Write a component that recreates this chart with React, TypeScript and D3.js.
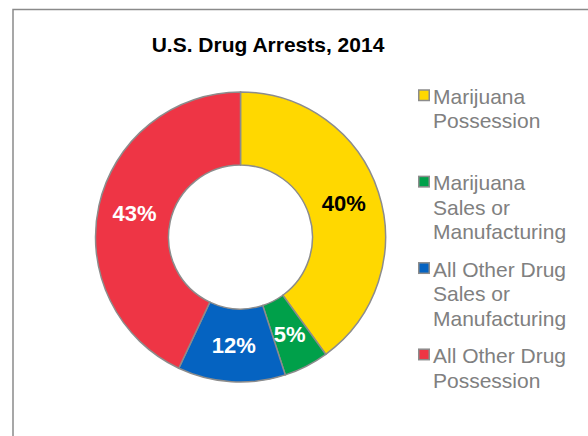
import React from "react";
import * as d3 from "d3";

const categories = [
  ["Marijuana", "Possession"],
  ["Marijuana", "Sales or", "Manufacturing"],
  ["All Other Drug", "Sales or", "Manufacturing"],
  ["All Other Drug", "Possession"],
];
const values = [40, 5, 12, 43];
const labels = ["40%", "5%", "12%", "43%"];
const colors = ["#FFD800", "#00A04A", "#0563C1", "#EE3545"];
const labelColors = ["#000000", "#FFFFFF", "#FFFFFF", "#FFFFFF"];
const title = "U.S. Drug Arrests, 2014";

export default function App() {
  const W = 588;
  const H = 436;
  const cx = 240.5;
  const cy = 237;
  const outerR = 145;
  const innerR = 72;

  const pie = d3
    .pie<number>()
    .sort(null)
    .value((d) => d)
    .startAngle(0)
    .endAngle(2 * Math.PI);
  const arcs = pie(values);
  const arc = d3.arc<d3.PieArcDatum<number>>().innerRadius(innerR).outerRadius(outerR);

  const legendX = 418;
  const legendBase = 104;
  const legendStep = 86.4;
  const lineH = 24.4;
  const font = "'Liberation Sans', Arial, sans-serif";

  return (
    <svg
      width={W}
      height={H}
      style={{ position: "absolute", left: 0, top: 0, background: "#fff" }}
      fontFamily={font}
    >
      <rect x={0} y={0} width={W} height={H} fill="#fff" />
      <rect x={13} y={9.5} width={700} height={600} fill="#fff" stroke="#8a8a8a" strokeWidth={1.5} />
      <text x={268} y={52} textAnchor="middle" fontSize={21} fontWeight="bold" fill="#000">
        {title}
      </text>
      <g transform={`translate(${cx},${cy})`}>
        {arcs.map((a, i) => (
          <path key={i} d={arc(a) || ""} fill={colors[i]} stroke="#8c8c8c" strokeWidth={1.5} />
        ))}
        {arcs.map((a, i) => {
          const [x, y] = arc.centroid(a);
          return (
            <text
              key={"l" + i}
              x={x}
              y={y}
              dy="0.36em"
              textAnchor="middle"
              fontSize={22}
              fontWeight="bold"
              fill={labelColors[i]}
            >
              {labels[i]}
            </text>
          );
        })}
      </g>
      {categories.map((lines, i) => {
        const base = legendBase + i * legendStep;
        return (
          <g key={"lg" + i}>
            <rect
              x={legendX + 0.75}
              y={base - 14}
              width={10.5}
              height={10.5}
              fill={colors[i]}
              stroke="#8c8c8c"
              strokeWidth={1.5}
            />
            {lines.map((t, j) => (
              <text key={j} x={433} y={base + j * lineH} fontSize={21} fill="#808080">
                {t}
              </text>
            ))}
          </g>
        );
      })}
    </svg>
  );
}
